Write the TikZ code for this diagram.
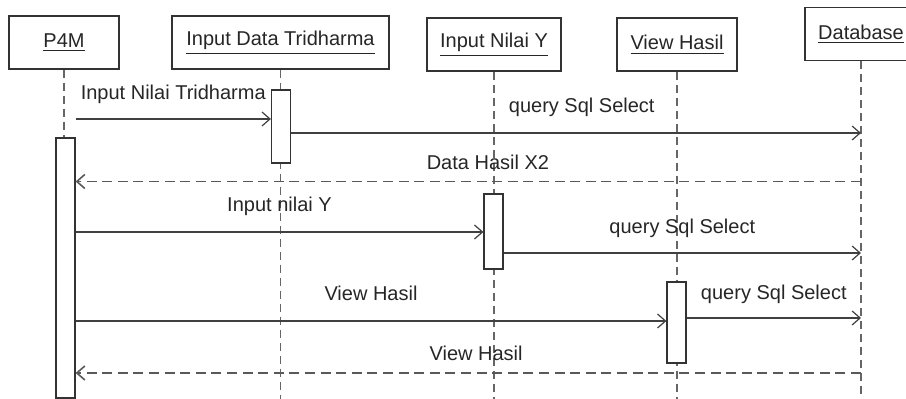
\documentclass[tikz,border=0pt]{standalone}
\usepackage{fontspec}
\setmainfont{Liberation Sans}
\usepackage{tikz}
\usetikzlibrary{positioning, arrows.meta}

\newcommand{\headline}[1]{\vtop{\hbox{#1}\kern1.3pt\hrule height 0.6pt}}

\begin{document}
\begin{tikzpicture}[x=0.5pt, y=-0.5pt, node distance=100pt, >={Straight Barb[length=4pt,width=7pt]}, line width=0.6pt]

	\tikzstyle{head} = [draw=black!80, rectangle, fill=white, text=black!85, minimum height=26.5pt, inner sep=0pt]

	\tikzstyle{lifeline} = [draw=black!60, line width=0.8pt, dash pattern=on 4pt off 2.5pt]

	\tikzstyle{activation} = [draw=black!80, rectangle, fill=white, minimum width=9.5pt, inner sep=0pt]

	\tikzstyle{line} = [draw=black!75, ->]

	\tikzstyle{reply} = [draw=black!65, line width=0.8pt, ->, dash pattern=on 5pt off 2.8pt]

	\tikzstyle{label} = [text=black!85, text depth=2pt, inner sep=3.3pt]

	\useasboundingbox (0,0) rectangle (906,399);

	\node[head, minimum width=55pt] (p4m) at (64,42.5) {\headline{P4M}};
	\node[head, minimum width=108.5pt, node distance=108.25pt] (input data tridharma) [right of=p4m] {\headline{Input Data Tridharma}};
	\node[head, minimum width=67pt, node distance=106.75pt, yshift=-1pt] (input nilai y) [right of=input data tridharma] {\headline{Input Nilai Y}};
	\node[head, minimum width=60pt, node distance=91.5pt] (view hasil) [right of=input nilai y] {\headline{View Hasil}};
	\node[head, minimum width=56pt, node distance=92pt, yshift=5.25pt] (database) [right of=view hasil] {\headline{Database}};

	\coordinate (bottom) at (0,399);

	\draw [lifeline] (p4m) -- (p4m |- bottom);
	\draw [lifeline] (input data tridharma) -- (input data tridharma |- bottom);
	\draw [lifeline] (input nilai y) -- (input nilai y |- bottom);
	\draw [lifeline] (view hasil) -- (view hasil |- bottom);
	\draw [lifeline] (database) -- (database |- bottom);

	\node[activation, minimum height=130pt] (p4m active) at (65.5,268) {};
	\node[activation, minimum height=36.5pt] (tridharma active) at (281,126.5) {};
	\node[activation, minimum height=37.5pt] (nilai y active) at (493.5,231.5) {};
	\node[activation, minimum height=40.5pt] (view hasil active) at (676.5,322.5) {};

	\coordinate (send tridharma) at (0,119);
	\coordinate (select x2) at (0,133);
	\coordinate (return x2) at (0,181.5);
	\coordinate (send nilai y) at (0,232);
	\coordinate (select y) at (0,253);
	\coordinate (send view) at (0,321);
	\coordinate (select view) at (0,318);
	\coordinate (return view) at (0,373);

	\draw [line] (p4m active.east |- send tridharma) -- node[label, above=4pt] {Input Nilai Tridharma} (tridharma active.west |- send tridharma);
	\draw [line] (tridharma active.east |- select x2) -- node[label, above=4.5pt, pos=0.51] {query Sql Select} (database |- select x2);
	\draw [reply] (database |- return x2) -- node[label, above=0.5pt, pos=0.475] {Data Hasil X2} (p4m active.east |- return x2);

	\draw [line] (p4m active.east |- send nilai y) -- node[label, above=4.5pt] {Input nilai Y} (nilai y active.west |- send nilai y);
	\draw [line] (nilai y active.east |- select y) -- node[label, above=4pt] {query Sql Select} (database |- select y);

	\draw [line] (p4m active.east |- send view) -- node[label, above=4.5pt] {View Hasil} (view hasil active.west |- send view);
	\draw [line] (view hasil active.east |- select view) -- node[label, above=3.5pt] {query Sql Select} (database |- select view);
	\draw [reply] (database |- return view) -- node[label, above=0.5pt, pos=0.49] {View Hasil} (p4m active.east |- return view);

\end{tikzpicture}
\end{document}
